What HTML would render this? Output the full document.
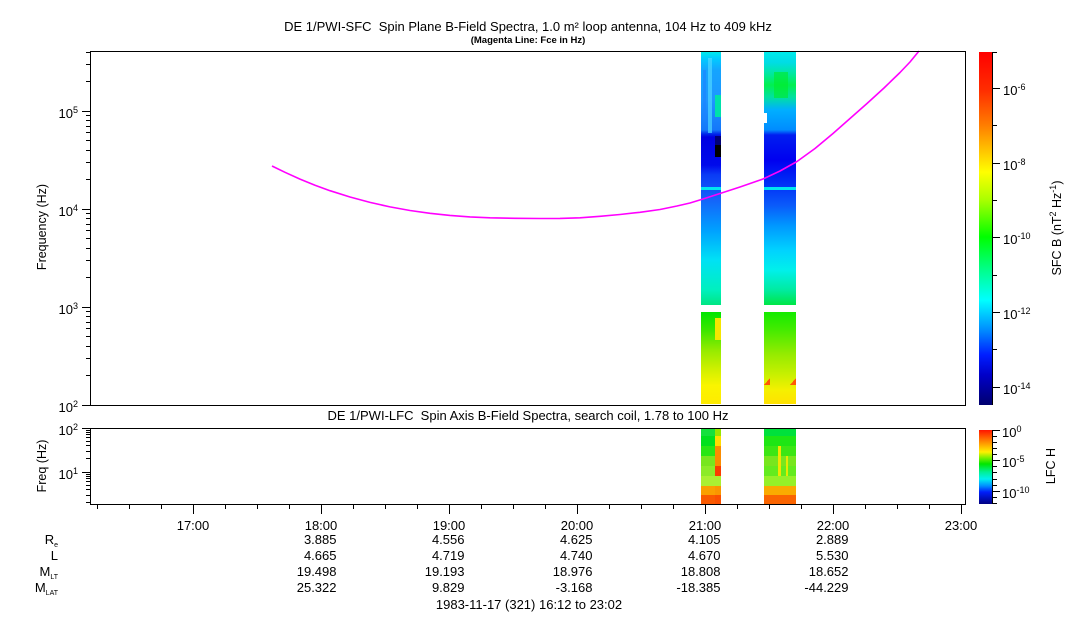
<!DOCTYPE html>
<html><head><meta charset="utf-8">
<style>
html,body{margin:0;padding:0;background:#fff;}
svg{display:block;}
text{font-family:"Liberation Sans",Arial,sans-serif;fill:#000;}
</style></head>
<body>
<svg width="1083" height="620" viewBox="0 0 1083 620" xmlns="http://www.w3.org/2000/svg">
<defs>
<linearGradient id="cbs" gradientUnits="userSpaceOnUse" x1="0" y1="52" x2="0" y2="405">
<stop offset="0" stop-color="rgb(255,0,0)"/>
<stop offset="0.108" stop-color="rgb(255,45,0)"/>
<stop offset="0.207" stop-color="rgb(255,125,0)"/>
<stop offset="0.278" stop-color="rgb(255,195,0)"/>
<stop offset="0.34" stop-color="rgb(255,255,0)"/>
<stop offset="0.419" stop-color="rgb(170,255,0)"/>
<stop offset="0.524" stop-color="rgb(0,255,0)"/>
<stop offset="0.618" stop-color="rgb(0,255,140)"/>
<stop offset="0.703" stop-color="rgb(0,255,255)"/>
<stop offset="0.788" stop-color="rgb(0,140,255)"/>
<stop offset="0.858" stop-color="rgb(0,30,255)"/>
<stop offset="0.915" stop-color="rgb(0,0,200)"/>
<stop offset="1" stop-color="rgb(0,0,110)"/>
</linearGradient>
<linearGradient id="cbl" gradientUnits="userSpaceOnUse" x1="0" y1="430" x2="0" y2="504">
<stop offset="0" stop-color="rgb(255,20,0)"/>
<stop offset="0.108" stop-color="rgb(255,100,0)"/>
<stop offset="0.216" stop-color="rgb(255,180,0)"/>
<stop offset="0.297" stop-color="rgb(255,240,0)"/>
<stop offset="0.378" stop-color="rgb(120,240,0)"/>
<stop offset="0.459" stop-color="rgb(0,230,0)"/>
<stop offset="0.568" stop-color="rgb(0,240,150)"/>
<stop offset="0.662" stop-color="rgb(0,240,240)"/>
<stop offset="0.757" stop-color="rgb(0,140,255)"/>
<stop offset="0.838" stop-color="rgb(0,30,250)"/>
<stop offset="1" stop-color="rgb(0,0,130)"/>
</linearGradient>
<linearGradient id="c1u" gradientUnits="userSpaceOnUse" x1="0" y1="52" x2="0" y2="305">
<stop offset="0" stop-color="rgb(0,235,235)"/>
<stop offset="0.024" stop-color="rgb(0,205,255)"/>
<stop offset="0.071" stop-color="rgb(20,165,255)"/>
<stop offset="0.19" stop-color="rgb(30,150,255)"/>
<stop offset="0.308" stop-color="rgb(20,120,250)"/>
<stop offset="0.324" stop-color="rgb(0,40,235)"/>
<stop offset="0.336" stop-color="rgb(0,0,225)"/>
<stop offset="0.447" stop-color="rgb(0,10,235)"/>
<stop offset="0.486" stop-color="rgb(10,60,245)"/>
<stop offset="0.585" stop-color="rgb(20,100,250)"/>
<stop offset="0.704" stop-color="rgb(0,160,255)"/>
<stop offset="0.822" stop-color="rgb(0,225,245)"/>
<stop offset="0.941" stop-color="rgb(0,240,190)"/>
<stop offset="1" stop-color="rgb(0,230,130)"/>
</linearGradient>
<linearGradient id="c2u" gradientUnits="userSpaceOnUse" x1="0" y1="52" x2="0" y2="305">
<stop offset="0" stop-color="rgb(0,235,235)"/>
<stop offset="0.04" stop-color="rgb(0,220,230)"/>
<stop offset="0.079" stop-color="rgb(0,230,170)"/>
<stop offset="0.13" stop-color="rgb(0,240,80)"/>
<stop offset="0.178" stop-color="rgb(0,225,160)"/>
<stop offset="0.229" stop-color="rgb(0,175,255)"/>
<stop offset="0.308" stop-color="rgb(0,140,255)"/>
<stop offset="0.328" stop-color="rgb(0,30,240)"/>
<stop offset="0.427" stop-color="rgb(0,0,240)"/>
<stop offset="0.506" stop-color="rgb(0,40,245)"/>
<stop offset="0.605" stop-color="rgb(10,90,250)"/>
<stop offset="0.684" stop-color="rgb(0,150,255)"/>
<stop offset="0.783" stop-color="rgb(0,210,255)"/>
<stop offset="0.862" stop-color="rgb(0,240,235)"/>
<stop offset="0.941" stop-color="rgb(0,235,160)"/>
<stop offset="1" stop-color="rgb(0,230,70)"/>
</linearGradient>
<linearGradient id="c1l" gradientUnits="userSpaceOnUse" x1="0" y1="312" x2="0" y2="404">
<stop offset="0" stop-color="rgb(0,230,0)"/>
<stop offset="0.2" stop-color="rgb(60,230,0)"/>
<stop offset="0.42" stop-color="rgb(150,235,0)"/>
<stop offset="0.63" stop-color="rgb(210,240,0)"/>
<stop offset="0.8" stop-color="rgb(250,245,0)"/>
<stop offset="1" stop-color="rgb(255,235,0)"/>
</linearGradient>
<linearGradient id="c2l" gradientUnits="userSpaceOnUse" x1="0" y1="312" x2="0" y2="404">
<stop offset="0" stop-color="rgb(20,235,0)"/>
<stop offset="0.2" stop-color="rgb(70,235,0)"/>
<stop offset="0.46" stop-color="rgb(150,235,0)"/>
<stop offset="0.68" stop-color="rgb(200,240,0)"/>
<stop offset="0.85" stop-color="rgb(245,240,0)"/>
<stop offset="1" stop-color="rgb(255,225,0)"/>
</linearGradient>
</defs>

<!-- Titles -->
<text x="528" y="31" font-size="13" text-anchor="middle" xml:space="preserve">DE 1/PWI-SFC  Spin Plane B-Field Spectra, 1.0 m² loop antenna, 104 Hz to 409 kHz</text>
<text x="528" y="43" font-size="9.5" font-weight="bold" text-anchor="middle">(Magenta Line: Fce in Hz)</text>
<text x="528" y="420" font-size="13" text-anchor="middle" xml:space="preserve">DE 1/PWI-LFC  Spin Axis B-Field Spectra, search coil, 1.78 to 100 Hz</text>

<!-- Main spectrogram data -->
<g shape-rendering="crispEdges">
<rect x="701" y="52" width="20" height="253" fill="url(#c1u)"/>
<rect x="708" y="58" width="4" height="75" fill="rgb(80,215,255)" opacity="0.7"/>
<rect x="703" y="70" width="3" height="50" fill="rgb(30,130,255)" opacity="0.6"/>
<rect x="715" y="95" width="6" height="22" fill="rgb(0,225,170)"/>
<rect x="715" y="136" width="6" height="9" fill="rgb(0,0,120)"/>
<rect x="715" y="145" width="6" height="12" fill="rgb(0,0,0)"/>
<rect x="701" y="187" width="20" height="3" fill="rgb(0,230,240)"/>
<rect x="701" y="312" width="20" height="92" fill="url(#c1l)"/>
<rect x="715" y="318" width="6" height="22" fill="rgb(245,230,0)"/>

<rect x="764" y="52" width="32" height="253" fill="url(#c2u)"/>
<rect x="774" y="72" width="14" height="26" fill="rgb(0,235,40)" opacity="0.6"/>
<rect x="764" y="113" width="3" height="10" fill="#fff"/>
<rect x="764" y="187" width="32" height="3" fill="rgb(0,230,240)"/>
<rect x="764" y="312" width="32" height="92" fill="url(#c2l)"/>
<polygon points="764,385 770,378 770,385" fill="rgb(255,90,0)"/>
<polygon points="796,378 790,385 796,385" fill="rgb(255,90,0)"/>

<!-- Lower panel data -->
<rect x="701" y="428" width="14" height="8" fill="rgb(20,225,60)"/>
<rect x="701" y="436" width="14" height="10" fill="rgb(0,225,30)"/>
<rect x="701" y="446" width="14" height="10" fill="rgb(40,230,20)"/>
<rect x="701" y="456" width="14" height="10" fill="rgb(120,230,30)"/>
<rect x="701" y="466" width="14" height="10" fill="rgb(140,235,40)"/>
<rect x="701" y="476" width="14" height="10" fill="rgb(170,240,50)"/>
<rect x="701" y="486" width="14" height="9" fill="rgb(250,160,0)"/>
<rect x="701" y="495" width="14" height="9" fill="rgb(250,90,0)"/>
<rect x="715" y="428" width="6" height="8" fill="rgb(150,230,0)"/>
<rect x="715" y="436" width="6" height="10" fill="rgb(255,220,0)"/>
<rect x="715" y="446" width="6" height="20" fill="rgb(250,140,0)"/>
<rect x="715" y="466" width="6" height="10" fill="rgb(250,60,0)"/>
<rect x="715" y="476" width="6" height="10" fill="rgb(170,240,50)"/>
<rect x="715" y="486" width="6" height="9" fill="rgb(250,150,0)"/>
<rect x="715" y="495" width="6" height="9" fill="rgb(250,80,0)"/>

<rect x="764" y="428" width="32" height="8" fill="rgb(0,225,60)"/>
<rect x="764" y="436" width="32" height="10" fill="rgb(30,230,20)"/>
<rect x="764" y="446" width="32" height="10" fill="rgb(60,230,20)"/>
<rect x="764" y="456" width="32" height="10" fill="rgb(120,230,30)"/>
<rect x="764" y="466" width="32" height="10" fill="rgb(100,235,30)"/>
<rect x="764" y="476" width="32" height="10" fill="rgb(150,240,40)"/>
<rect x="764" y="486" width="32" height="9" fill="rgb(250,170,0)"/>
<rect x="764" y="495" width="32" height="9" fill="rgb(250,100,0)"/>
<rect x="778" y="446" width="3" height="30" fill="rgb(240,230,0)"/>
<rect x="786" y="456" width="2" height="20" fill="rgb(230,235,0)"/>

<!-- Colorbars -->
<rect x="979" y="52" width="13" height="353" fill="url(#cbs)"/>
<rect x="979" y="430" width="13" height="74" fill="url(#cbl)"/>
</g>

<!-- Magenta Fce line -->
<polyline fill="none" stroke="#ff00ff" stroke-width="1.6" stroke-linejoin="round" points="272,166 285,172.3 300,179.1 315,185.2 330,190.7 350,197 370,202.4 390,206.9 410,210.5 430,213.3 450,215.4 470,216.9 490,217.8 515,218.3 540,218.5 560,218.4 580,217.8 600,216.3 620,214.5 640,212.3 660,209.5 677,206 690,203 703,199 720,193.5 740,187 763,179 780,171 797,161.5 815,148.5 833,133.5 850,118.5 867,103.5 884,88 900,72.5 910,62 919,51"/>

<!-- Axes frames -->
<g fill="none" stroke="#000" stroke-width="1" shape-rendering="crispEdges">
<rect x="90.5" y="51.5" width="875" height="354"/>
<rect x="90.5" y="428.5" width="875" height="76"/>
<line x1="992.5" y1="52" x2="992.5" y2="405"/>
<line x1="992.5" y1="430" x2="992.5" y2="504"/>
<path d="M82 405.5H90M82 307.5H90M82 209.5H90M82 111.5H90"/>
<path d="M86 375.5H90M86 358.5H90M86 346.5H90M86 336.5H90M86 328.5H90M86 322.5H90M86 316.5H90M86 311.5H90
M86 277.5H90M86 260.5H90M86 248.5H90M86 238.5H90M86 230.5H90M86 224.5H90M86 218.5H90M86 213.5H90
M86 179.5H90M86 162.5H90M86 150.5H90M86 140.5H90M86 132.5H90M86 126.5H90M86 120.5H90M86 115.5H90
M86 81.5H90M86 64.5H90M86 52.5H90"/>
<path d="M82 428.5H90M82 472.5H90"/>
<path d="M86 502.5H90M86 495.5H90M86 489.5H90M86 485.5H90M86 481.5H90M86 478.5H90M86 476.5H90M86 474.5H90
M86 458.5H90M86 451.5H90M86 445.5H90M86 441.5H90M86 437.5H90M86 434.5H90M86 432.5H90M86 430.5H90"/>
<path d="M193.5 505V514M321.5 505V514M449.5 505V514M577.5 505V514M705.5 505V514M833.5 505V514M961.5 505V514"/>
<path d="M97.5 505V509M129.5 505V509M161.5 505V509M225.5 505V509M257.5 505V509M289.5 505V509M353.5 505V509M385.5 505V509M417.5 505V509M481.5 505V509M513.5 505V509M545.5 505V509M609.5 505V509M641.5 505V509M673.5 505V509M737.5 505V509M769.5 505V509M801.5 505V509M865.5 505V509M897.5 505V509M929.5 505V509"/>
<path d="M992 88.5H1000M992 163.5H1000M992 237.5H1000M992 312.5H1000M992 387.5H1000"/>
<path d="M992 52.5H997M992 125.5H997M992 200.5H997M992 275.5H997M992 349.5H997"/>
<path d="M992 430.5H1000M992 460.5H1000M992 491.5H1000"/>
<path d="M992 436.5H997M992 442.5H997M992 448.5H997M992 454.5H997M992 466.5H997M992 472.5H997M992 479.5H997M992 485.5H997M992 497.5H997M992 503.5H997"/>
</g>

<!-- Y tick labels -->
<g font-size="13" text-anchor="end">
<text x="78" y="412">10<tspan font-size="9" dy="-5">2</tspan></text>
<text x="78" y="314">10<tspan font-size="9" dy="-5">3</tspan></text>
<text x="78" y="216">10<tspan font-size="9" dy="-5">4</tspan></text>
<text x="78" y="118">10<tspan font-size="9" dy="-5">5</tspan></text>
<text x="78" y="435">10<tspan font-size="9" dy="-5">2</tspan></text>
<text x="78" y="479">10<tspan font-size="9" dy="-5">1</tspan></text>
</g>
<text transform="translate(42,227) rotate(-90)" x="0" y="4" font-size="12.5" text-anchor="middle">Frequency (Hz)</text>
<text transform="translate(42,466) rotate(-90)" x="0" y="4" font-size="12.5" text-anchor="middle">Freq (Hz)</text>

<!-- Colorbar labels -->
<g font-size="13">
<text x="1003" y="95">10<tspan font-size="9" dy="-5">-6</tspan></text>
<text x="1003" y="170">10<tspan font-size="9" dy="-5">-8</tspan></text>
<text x="1003" y="244">10<tspan font-size="9" dy="-5">-10</tspan></text>
<text x="1003" y="319">10<tspan font-size="9" dy="-5">-12</tspan></text>
<text x="1003" y="394">10<tspan font-size="9" dy="-5">-14</tspan></text>
<text x="1002" y="437">10<tspan font-size="9" dy="-5">0</tspan></text>
<text x="1002" y="467">10<tspan font-size="9" dy="-5">-5</tspan></text>
<text x="1002" y="498">10<tspan font-size="9" dy="-5">-10</tspan></text>
</g>
<text transform="translate(1057,228) rotate(-90)" x="0" y="4" font-size="12.5" text-anchor="middle">SFC B (nT<tspan font-size="9" dy="-5">2</tspan><tspan dy="5"> Hz</tspan><tspan font-size="9" dy="-5">-1</tspan><tspan dy="5">)</tspan></text>
<text transform="translate(1051,466) rotate(-90)" x="0" y="4" font-size="12.5" text-anchor="middle">LFC H</text>

<!-- Time labels -->
<g font-size="13" text-anchor="middle">
<text x="193" y="530">17:00</text>
<text x="321" y="530">18:00</text>
<text x="449" y="530">19:00</text>
<text x="577" y="530">20:00</text>
<text x="705" y="530">21:00</text>
<text x="833" y="530">22:00</text>
<text x="961" y="530">23:00</text>
</g>

<!-- Ephemeris labels -->
<g font-size="13" text-anchor="end">
<text x="58" y="544">R<tspan font-size="7" dy="3">e</tspan></text>
<text x="58" y="560">L</text>
<text x="58" y="576">M<tspan font-size="7" dy="3">LT</tspan></text>
<text x="58" y="592">M<tspan font-size="7" dy="3">LAT</tspan></text>

<text x="336.5" y="544">3.885</text>
<text x="336.5" y="560">4.665</text>
<text x="336.5" y="576">19.498</text>
<text x="336.5" y="592">25.322</text>

<text x="464.5" y="544">4.556</text>
<text x="464.5" y="560">4.719</text>
<text x="464.5" y="576">19.193</text>
<text x="464.5" y="592">9.829</text>

<text x="592.5" y="544">4.625</text>
<text x="592.5" y="560">4.740</text>
<text x="592.5" y="576">18.976</text>
<text x="592.5" y="592">-3.168</text>

<text x="720.5" y="544">4.105</text>
<text x="720.5" y="560">4.670</text>
<text x="720.5" y="576">18.808</text>
<text x="720.5" y="592">-18.385</text>

<text x="848.5" y="544">2.889</text>
<text x="848.5" y="560">5.530</text>
<text x="848.5" y="576">18.652</text>
<text x="848.5" y="592">-44.229</text>
</g>
<text x="529" y="609" font-size="13" text-anchor="middle">1983-11-17 (321) 16:12 to 23:02</text>
</svg>
</body></html>
